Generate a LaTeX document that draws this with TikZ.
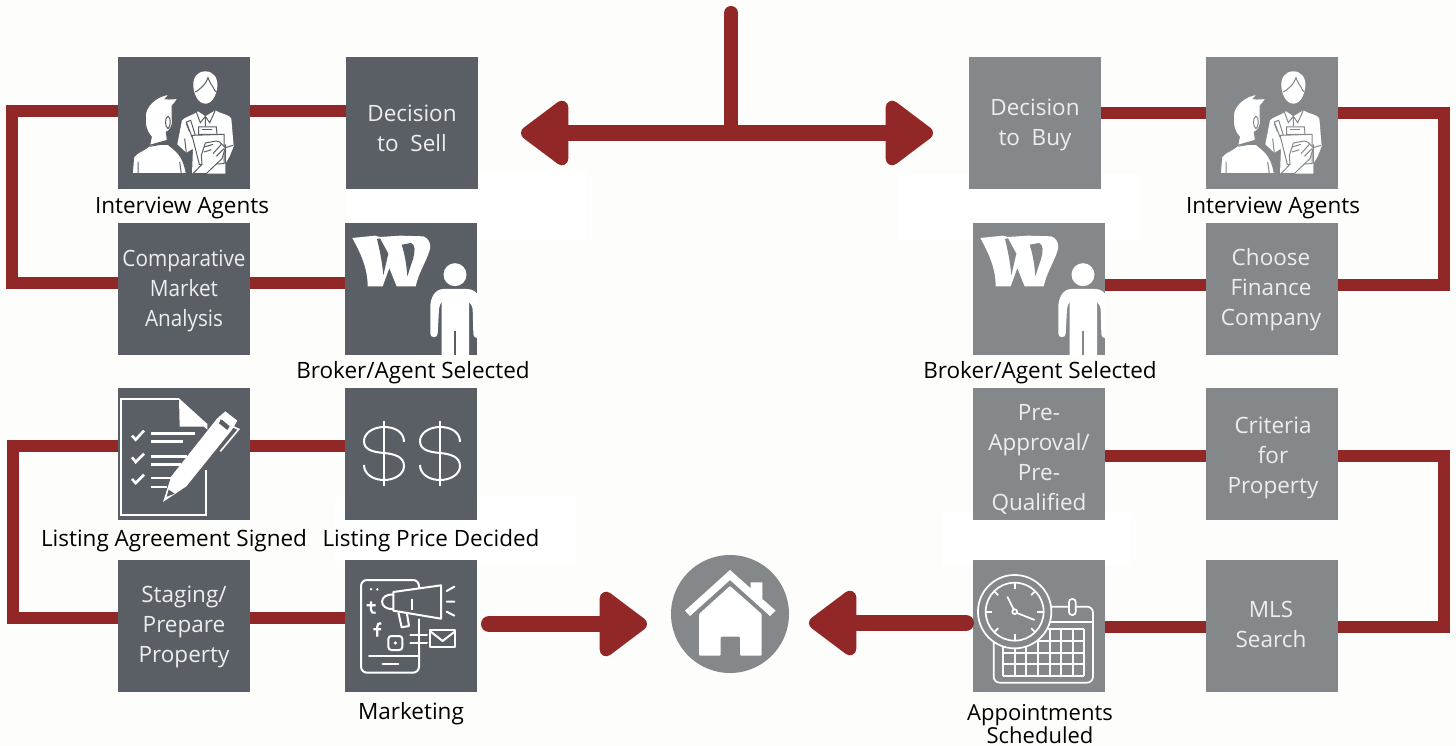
\documentclass[tikz,border=0pt]{standalone}
\usepackage{fontspec}
\setmainfont{Open Sans}
\newfontfamily\narrowf[FakeStretch=0.92]{Open Sans}
\usetikzlibrary{arrows.meta,calc}
\definecolor{pagebg}{HTML}{FDFDFB}
\definecolor{darkbox}{HTML}{5A5F66}
\definecolor{greybox}{HTML}{85888B}
\definecolor{linkred}{HTML}{912726}
\definecolor{boxtextc}{HTML}{EDEDED}
\tikzset{
  sq/.style={minimum size=132pt,inner sep=0pt,outer sep=0pt,fill=#1},
  boxtext/.style={text=boxtextc,align=center,font=\fontsize{22.5}{30}\selectfont,inner sep=0pt},
  caption/.style={text=black,align=center,font=\fontsize{22.5}{24}\selectfont,inner sep=0pt},
  link/.style={draw=linkred,line width=12pt,line join=miter},
  bigarrow/.style={draw=linkred,line width=16pt,line cap=round,
    -{Triangle[length=52pt,width=74pt,line width=14pt,round,fill=linkred]}},
  ic/.style={x=0.33333pt,y=-0.33333pt,shift={(#1.north west)}},
  wline/.style={draw=white,line width=2pt,fill=none},
}
\newcommand{\hlink}[3]{\draw[link] ([shift={(0,#3)}]#1) -- ([shift={(0,#3)}]#2);}
\newcommand{\interviewicon}[2]{%
\begin{scope}[ic=#1]
  % woman body
  \fill[white] (178,262) -- (192,190) .. controls (200,180) and (225,175) .. (240,163) -- (262,178) -- (292,160)
     .. controls (310,172) and (335,172) .. (340,185) -- (347,268) -- (335,298) -- (322,320) -- (322,350) -- (222,350)
     -- (225,275) -- (205,287) -- cycle;
  % woman head
  \fill[white] (262,43) .. controls (238,43) and (224,62) .. (226,88) .. controls (228,112) and (240,140) .. (262,140)
     .. controls (284,140) and (296,112) .. (298,88) .. controls (300,62) and (286,43) .. (262,43) -- cycle;
  \draw[#2,line width=1pt] (240,100) .. controls (250,92) and (265,80) .. (270,62) .. controls (275,78) and (285,88) .. (290,100)
     (232,105) -- (240,100) (290,100) -- (295,105);
  \draw[#2,line width=1pt] (235,165) -- (247,197) -- (262,178) -- (275,197) -- (292,160)
     (262,178) -- (262,208) (215,225) -- (205,200)
     (322,320) -- (322,262) (345,265) -- (322,272) (200,245) -- (205,287);
  % pen
  \fill[white,draw=#2,line width=1pt] (205,195) -- (218,190) -- (232,235) -- (222,240) -- cycle;
  % clipboard clip and board
  \fill[white,draw=#2,line width=1pt] (242,210) -- (295,210) -- (297,232) -- (242,232) -- cycle;
  \draw[#2,line width=1pt] (252,218) -- (282,218);
  \fill[white,draw=#2,line width=1pt] (222,235) -- (318,232) -- (318,320) -- (244,322) -- cycle;
  % man body
  \fill[white,draw=#2,line width=1pt] (43,350) -- (47,300) .. controls (55,285) and (85,280) .. (97,262) -- (150,262)
     .. controls (170,280) and (195,290) .. (205,350) -- cycle;
  \draw[#2,line width=1pt] (95,268) -- (150,258) (60,315) -- (60,350) (185,315) -- (190,350);
  % man head and hair
  \fill[white,draw=#2,line width=1pt] (82,182) .. controls (78,150) and (115,115) .. (155,112) -- (142,125)
     .. controls (155,128) and (170,124) .. (180,125) -- (162,148) -- (163,200)
     .. controls (160,215) and (150,225) .. (145,225) -- (148,250) -- (95,265)
     -- (100,240) .. controls (85,225) and (80,200) .. (82,182) -- cycle;
  \draw[#2,line width=1pt] (150,178) .. controls (140,180) and (140,210) .. (150,215) .. controls (158,212) and (160,180) .. (150,178) -- cycle;
  % hand
  \fill[white,draw=#2,line width=1pt] (225,350) -- (252,322) -- (250,295) -- (262,258) -- (295,252) -- (305,255) -- (322,272)
     -- (312,305) -- (275,340) -- (265,350) -- cycle;
  \draw[#2,line width=1pt] (258,270) -- (285,262) (258,285) -- (280,278) (285,290) -- (310,262) (295,298) -- (318,275);
\end{scope}}
\newcommand{\brokericon}[2]{%
\begin{scope}[ic=#1]
  \fill[white] (22,45) -- (90,38) -- (105,42) -- (165,38) -- (235,40) .. controls (250,45) and (258,60) .. (255,78)
     .. controls (245,115) and (222,145) .. (212,190) -- (155,190) -- (133,135) -- (113,190) -- (68,190)
     .. controls (68,140) and (52,100) .. (22,45) -- cycle;
  \fill[#2] (96,48) -- (105,46) -- (130,92) -- (115,157) .. controls (112,120) and (105,85) .. (96,48) -- cycle;
  \fill[#2] (170,65) -- (198,60) .. controls (212,65) and (210,85) .. (205,105) -- (187,160) .. controls (185,130) and (180,95) .. (170,65) -- cycle;
  \fill[white] (330,155) circle[radius=11.5pt];
  \fill[white] (256,332) .. controls (256,346) and (278,346) .. (278,332) -- (282,258) .. controls (282,248) and (288,240) .. (290,236)
     -- (290,396) -- (372,396) -- (372,236) .. controls (378,244) and (382,250) .. (383,258) -- (385,332)
     .. controls (386,342) and (392,345) .. (396,345) -- (396,212) .. controls (390,204) and (380,198) .. (365,198)
     -- (295,198) .. controls (270,198) and (256,225) .. (256,250) -- cycle;
  \fill[#2] (327,325) rectangle (333,396);
\end{scope}}
\begin{document}
\begin{tikzpicture}[x=1pt,y=-1pt]
\useasboundingbox (0,0) rectangle (1456,746);
\fill[pagebg] (0,0) rectangle (1456,746);
% faint white patches
\fill[white] (346,173) rectangle (587,241);
\fill[white] (898,174) rectangle (1140,241);
\fill[white] (335,497) rectangle (576,566);
\fill[white] (942,513) rectangle (1131,566);

% boxes
\node[sq=darkbox] (ileft) at (184,123) {};
\node[sq=darkbox] (dsell) at (412,123) {};
\node[sq=darkbox] (cma) at (184,289) {};
\node[sq=darkbox] (brokerl) at (411,289) {};
\node[sq=darkbox] (agree) at (184,454) {};
\node[sq=darkbox] (price) at (411,454) {};
\node[sq=darkbox] (stage) at (184,626) {};
\node[sq=darkbox] (mkt) at (411,626) {};
\node[sq=greybox] (dbuy) at (1035,123) {};
\node[sq=greybox] (iright) at (1272,123) {};
\node[sq=greybox] (brokerr) at (1039,289) {};
\node[sq=greybox] (choose) at (1272,289) {};
\node[sq=greybox] (preapp) at (1039,454) {};
\node[sq=greybox] (crit) at (1272,454) {};
\node[sq=greybox] (appt) at (1039,626) {};
\node[sq=greybox] (mls) at (1272,626) {};
\node[circle,fill=greybox,minimum size=118pt,inner sep=0pt,outer sep=0pt] (home) at (730,614) {};

% connectors
\coordinate (la) at (12,111.5); \coordinate (lb) at (12,283);
\coordinate (lc) at (12.5,446); \coordinate (ld) at (12.5,617.5);
\coordinate (ra) at (1444,113); \coordinate (rb) at (1444,285);
\coordinate (rc) at (1444,455.5); \coordinate (rd) at (1444,627);
\hlink{dsell.west}{ileft.east}{-11.5}
\hlink{cma.east}{brokerl.west}{-6}
\hlink{price.west}{agree.east}{-8}
\hlink{stage.east}{mkt.west}{-8.5}
\hlink{dbuy.east}{iright.west}{-10}
\hlink{choose.west}{brokerr.east}{-4}
\hlink{preapp.east}{crit.west}{1.5}
\hlink{mls.west}{appt.east}{1}
\draw[link] ([shift={(0,-11.5)}]ileft.west) -- (la) -- (lb) -- ([shift={(0,-6)}]cma.west);
\draw[link] ([shift={(0,-8)}]agree.west) -- (lc) -- (ld) -- ([shift={(0,-8.5)}]stage.west);
\draw[link] ([shift={(0,-10)}]iright.east) -- (ra) -- (rb) -- ([shift={(0,-4)}]choose.east);
\draw[link] ([shift={(0,1.5)}]crit.east) -- (rc) -- (rd) -- ([shift={(0,1)}]mls.east);

% central arrows
\coordinate (stemtop) at (731,13);
\coordinate (hub) at (731,133);
\coordinate (tipl) at (521,133);
\coordinate (tipr) at (933,133);
\draw[draw=linkred,line width=14pt,line cap=round] (stemtop) -- (hub);
\draw[bigarrow] (hub) -- (tipl);
\draw[bigarrow] (hub) -- (tipr);
\draw[bigarrow] ([shift={(12,-2)}]mkt.east) -- ([shift={(-24,10)}]home.west);
\draw[bigarrow] ([shift={(-7,-3)}]appt.west) -- ([shift={(20,9)}]home.east);

% icons
\interviewicon{ileft}{darkbox}
\interviewicon{iright}{greybox}
\brokericon{brokerl}{darkbox}
\brokericon{brokerr}{greybox}

% document and pen
\begin{scope}[ic=agree]
  \draw[white,line width=2pt] (183,33) -- (8,33) -- (8,382) -- (265,382) -- (265,245);
  \fill[white] (183,31) -- (268,108) -- (268,125) -- (258,116) -- (185,116) -- cycle;
  \draw[white,line width=2.6pt]
    (42,143) -- (53,155) -- (78,128)
    (42,208) -- (53,222) -- (78,197)
    (42,273) -- (53,285) -- (78,260);
  \draw[white,line width=2.4pt]
    (100,136) -- (230,136) (100,160) -- (195,160)
    (100,205) -- (208,205) (100,230) -- (190,230)
    (100,270) -- (160,270) (100,297) -- (146,297);
  \fill[white] (135,342) -- (160,265) -- (297,92) -- (322,70) -- (358,98) -- (342,125) -- (205,295) -- cycle;
  \fill[darkbox] (146,326) -- (152,305) -- (170,317) -- cycle;
  \fill[darkbox] (308,94) -- (314,97) -- (335,115) -- (328,126) -- (303,106) -- cycle;
  \draw[white,line width=1.6pt] (345,116) -- (362,124) -- (307,190);
\end{scope}

% dollars
\begin{scope}[x=1pt,y=-1pt,shift={(price.north west)}]
  \foreach \dx in {0,56}{
  \begin{scope}[shift={(\dx,0)}]
    \draw[white,line width=2pt] (59,54) .. controls (59,44) and (50,39) .. (39,39)
      .. controls (27,39) and (19,46) .. (19,53) .. controls (19,62) and (28,64) .. (39,65)
      .. controls (50,66) and (59,69) .. (59,78) .. controls (59,86) and (50,92) .. (39,92)
      .. controls (28,92) and (19,86) .. (19,77);
    \draw[white,line width=2pt] (39,33) -- (39,98);
  \end{scope}}
\end{scope}

% marketing
\begin{scope}[ic=mkt]
  \draw[wline,line cap=round,rounded corners=6pt] (222,90) -- (222,60) -- (48,60) -- (48,338) -- (222,338) -- (222,262);
  \draw[wline,line cap=round] (222,178) -- (222,262)
     (72,287) -- (218,287) (113,312) -- (160,312);
  \fill[white] (78,88) circle[radius=1.4pt] (97,88) circle[radius=1.4pt];
  \draw[white,line width=2.2pt] (78,124) -- (78,150) .. controls (78,158) and (85,160) .. (92,158) (65,136) -- (92,136);
  \draw[white,line width=2.2pt] (109,191) .. controls (100,188) and (97,194) .. (97,200) -- (97,230) (85,208) -- (108,208);
  \draw[wline,rounded corners=3pt] (130,228) rectangle (172,270);
  \fill[white] (151,249) circle[radius=1.8pt];
  \fill[darkbox] (145,96) -- (288,76) -- (288,176) -- (145,152) -- cycle;
  \draw[wline,line join=round] (145,96) -- (288,76) -- (288,176) -- (145,152) -- cycle;
  \draw[wline] (145,104) .. controls (100,100) and (100,150) .. (145,147);
  \draw[wline] (201,118) -- (201,150);
  \draw[wline,line join=round] (160,157) -- (170,202) -- (192,198) -- (186,162);
  \draw[wline,line cap=round] (305,93) -- (328,80) (305,125) -- (328,125) (305,155) -- (328,167);
  \draw[wline,line cap=round] (196,225) -- (246,225) (196,250) -- (246,250);
  \draw[wline,line join=round] (256,210) rectangle (330,262);
  \draw[wline,line join=round] (256,214) -- (293,243) -- (330,214);
\end{scope}

% calendar and clock
\begin{scope}[ic=appt]
  \draw[wline,line width=1.7pt,rounded corners=6pt] (62,240) -- (62,368) -- (360,368) -- (360,140) -- (225,140);
  \draw[wline,line width=1.7pt] (230,185) -- (360,185);
  \draw[wline,line width=1.7pt,rounded corners=3pt,fill=greybox] (288,117) rectangle (308,165);
  \foreach \gx in {90,125,160,195,230,265,300,333} \draw[wline,line width=1.7pt] (\gx,208) -- (\gx,348);
  \foreach \gy in {208,243,278,313,348} \draw[wline,line width=1.7pt] (90,\gy) -- (333,\gy);
  \begin{scope}[shift={(125,155)}]
    \fill[greybox] (0,0) circle[radius=36.7pt];
    \draw[wline,line width=1.7pt] (0,0) circle[radius=36.7pt];
    \draw[wline,line width=1.7pt] (0,0) circle[radius=29pt];
    \foreach \a in {0,90,180,270} \draw[wline,line width=1.7pt] (\a:68) -- (\a:87);
    \foreach \a in {45,135,225,315} \draw[wline,line width=1.7pt] (\a:70) -- (\a:87);
    \draw[wline,line width=1.7pt] (-3,-7) -- (-22,-45) (7,4) -- (60,25);
    \draw[wline,line width=1.7pt] (0,0) circle[radius=2.4pt];
  \end{scope}
\end{scope}

% house
\begin{scope}[x=0.33333pt,y=-0.33333pt,shift={(home.center)},shift={(-180,-180)}]
  \fill[white] (45,170) -- (180,48) -- (242,103) -- (242,85) -- (277,85) -- (277,135) -- (317,170) -- (300,186) -- (180,78) -- (60,186) -- cycle;
  \fill[white,rounded corners=1pt] (180,96) -- (275,180) -- (275,305) -- (210,305) -- (210,248) -- (152,248) -- (152,305) -- (87,305) -- (87,180) -- cycle;
\end{scope}

% box texts
\node[boxtext] (tsell) at ([shift={(0,5)}]dsell.center) {Decision\\to\ \ Sell};
\node[boxtext,font=\narrowf\fontsize{22.5}{30}\selectfont] (tcma) at ([shift={(0,2)}]cma.center) {Comparative\\Market\\Analysis};
\node[boxtext] (tstage) at ([shift={(0,1)}]stage.center) {Staging/\\Prepare\\Property};
\node[boxtext] (tbuy) at ([shift={(0,2)}]dbuy.center) {Decision\\to\ \ Buy};
\node[boxtext] (tchoose) at ([shift={(-1,1)}]choose.center) {Choose\\Finance\\Company};
\node[boxtext] (tpre) at ([shift={(0,5)}]preapp.center) {Pre-\\Approval/\\Pre-\\Qualified};
\node[boxtext] (tcrit) at ([shift={(1,4)}]crit.center) {Criteria\\for\\Property};
\node[boxtext] (tmls) at ([shift={(-1,-2)}]mls.center) {MLS\\Search};

% captions
\node[caption] (c1) at (182,208) {Interview Agents};
\node[caption] (c2) at (413,373) {Broker/Agent Selected};
\node[caption] (c3) at (174,541) {Listing Agreement Signed};
\node[caption] (c4) at (431,541) {Listing Price Decided};
\node[caption] (c5) at (411,714) {Marketing};
\node[caption] (c6) at (1273,208) {Interview Agents};
\node[caption] (c7) at (1040,373) {Broker/Agent Selected};
\node[caption,font=\fontsize{22}{23}\selectfont] (c8) at (1040,724) {Appointments\\Scheduled};
\end{tikzpicture}
\end{document}
